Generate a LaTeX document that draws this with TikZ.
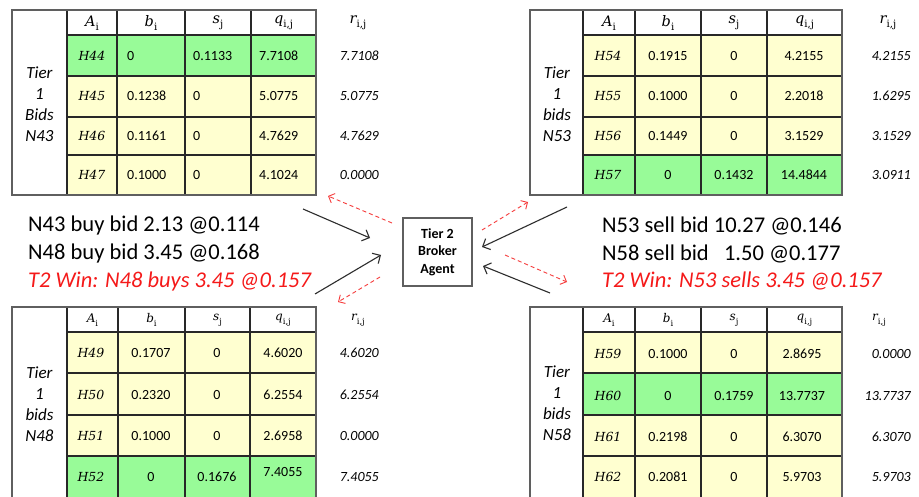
\documentclass[tikz,border=0pt]{standalone}
\usepackage{fontspec}
\setmainfont{Carlito}
\newfontfamily\dvserif{DejaVu Serif}
\usetikzlibrary{arrows.meta}
\definecolor{cgreen}{RGB}{152,251,152}
\definecolor{cyellow}{RGB}{255,255,208}
\definecolor{cgrid}{RGB}{40,40,40}
\definecolor{cframe}{RGB}{95,95,95}
\definecolor{cred}{RGB}{245,25,25}
\definecolor{carrow}{RGB}{45,45,45}
\newcommand\hsub[2]{{\dvserif\itshape #1}\raisebox{-0.3em}{\dvserif\upshape\scalebox{0.7}{#2}}}
\newcommand\trow[7]{%
  \node[acell] (#1a) at (\xA,#2) {#3};
  \node[ncell] (#1b) at (\xB,#2) {#4};
  \node[ncell] (#1s) at (\xS,#2) {#5};
  \node[ncell] (#1q) at (\xQ,#2) {#6};
  \node[rcell] (#1r) at (\xR,#2) {#7};}
\newcommand\thead[2]{%
  \node[hcell] (#1ha) at (\xHA,#2) {\hsub{A}{i}};
  \node[hcell] (#1hb) at (\xHB,#2) {\hsub{b}{i}};
  \node[hcell] (#1hs) at (\xHS,#2) {\hsub{s}{j}};
  \node[hcell] (#1hq) at (\xHQ,#2) {\hsub{q}{i,j}};
  \node[hcell] (#1hr) at (\xRH,#2) {\hsub{r}{i,j}};}
\tikzset{
  acell/.style={inner sep=0pt, font=\fontsize{12.5}{15}\dvserif\itshape},
  ncell/.style={inner sep=0pt, font=\fontsize{14}{16}\selectfont},
  rcell/.style={inner sep=0pt, anchor=east, font=\fontsize{14}{16}\selectfont\itshape},
  hcell/.style={inner sep=0pt, font=\fontsize{14.5}{17}\selectfont},
  tierlbl/.style={inner sep=0pt, align=center, font=\fontsize{17}{21}\selectfont\itshape},
  gridline/.style={draw=cgrid, line width=1.2pt},
  frameline/.style={draw=cframe, line width=1.4pt},
  bidtxt/.style={inner sep=0pt, anchor=base west, font=\fontsize{22.5}{26}\selectfont},
  wintxt/.style={inner sep=0pt, anchor=base west, text=cred, font=\fontsize{22.5}{26}\selectfont\itshape},
  broker/.style={draw=cframe, line width=1.3pt, minimum width=69pt, minimum height=68pt,
    inner sep=0pt, align=center, font=\fontsize{14}{17.5}\selectfont\bfseries},
  buyarrow/.style={draw=carrow, line width=1.1pt, -{Straight Barb[length=6pt,width=12pt]}},
  offerarrow/.style={draw=cred!85, line width=0.9pt, dash pattern=on 4pt off 3pt,
    -{Straight Barb[length=5pt,width=10pt]}},
}
\begin{document}
\begin{tikzpicture}[x=1pt,y=-1pt]
\useasboundingbox (0,0) rectangle (919,497);
\clip (0,0) rectangle (919,497);
\fill[white] (0,0) rectangle (919,497);

% ---------- top-left table ----------
\begin{scope}
  \fill[cgreen] (67,35) rectangle (316,76);
  \fill[cyellow] (67,76) rectangle (316,195);
  \foreach \yy in {35,76,117,155} \draw[gridline] (67,\yy) -- (316,\yy);
  \foreach \xx in {67,117,185,251} \draw[gridline] (\xx,10) -- (\xx,195);
  \draw[frameline] (12,10) rectangle (316,195);
  \def\xHA{92}\def\xHB{151}\def\xHS{218}\def\xHQ{283.5}\def\xRH{358}
  \thead{tl}{23}
  \def\xA{92}\def\xB{127}\def\xS{193}\def\xQ{259}\def\xR{379}
  \begin{scope}[ncell/.append style={anchor=west}]
    \trow{tl1}{56}{H44}{0}{0.1133}{7.7108}{7.7108}
    \trow{tl2}{96}{H45}{0.1238}{0}{5.0775}{5.0775}
    \trow{tl3}{136}{H46}{0.1161}{0}{4.7629}{4.7629}
    \trow{tl4}{175}{H47}{0.1000}{0}{4.1024}{0.0000}
  \end{scope}
  \node[tierlbl] (tltier) at (39.5,104) {Tier\\1\\Bids\\N43};
\end{scope}

% ---------- top-right table ----------
\begin{scope}
  \fill[cyellow] (583,35) rectangle (842,155);
  \fill[cgreen] (583,155) rectangle (842,195);
  \foreach \yy in {35,76,117,155} \draw[gridline] (583,\yy) -- (842,\yy);
  \foreach \xx in {583,635,701,767} \draw[gridline] (\xx,10) -- (\xx,195);
  \draw[frameline] (530,10) rectangle (842,195);
  \def\xHA{609}\def\xHB{668}\def\xHS{734}\def\xHQ{804.5}\def\xRH{888}
  \thead{tr}{23}
  \def\xA{608}\def\xB{668}\def\xS{734}\def\xQ{804}\def\xR{911}
  \trow{tr1}{56}{H54}{0.1915}{0}{4.2155}{4.2155}
  \trow{tr2}{96}{H55}{0.1000}{0}{2.2018}{1.6295}
  \trow{tr3}{136}{H56}{0.1449}{0}{3.1529}{3.1529}
  \trow{tr4}{175}{H57}{0}{0.1432}{14.4844}{3.0911}
  \node[tierlbl] (trtier) at (557,104) {Tier\\1\\bids\\N53};
\end{scope}

% ---------- bottom-left table ----------
\begin{scope}[hcell/.append style={font=\fontsize{12}{14}\selectfont}]
  \fill[cyellow] (67,332) rectangle (316,456);
  \fill[cgreen] (67,456) rectangle (316,510);
  \foreach \yy in {332,373,415,456} \draw[gridline] (67,\yy) -- (316,\yy);
  \foreach \xx in {67,118,185,250} \draw[gridline] (\xx,307) -- (\xx,510);
  \draw[frameline] (12,510) -- (12,307) -- (316,307) -- (316,510);
  \def\xHA{92.5}\def\xHB{151.5}\def\xHS{217.5}\def\xHQ{283}\def\xRH{358}
  \thead{bl}{320}
  \def\xA{91}\def\xB{151}\def\xS{217}\def\xQ{283}\def\xR{379}
  \trow{bl1}{353}{H49}{0.1707}{0}{4.6020}{4.6020}
  \trow{bl2}{395}{H50}{0.2320}{0}{6.2554}{6.2554}
  \trow{bl3}{436}{H51}{0.1000}{0}{2.6958}{0.0000}
  \trow{bl4}{477}{H52}{0}{0.1676}{\raisebox{10pt}{7.4055}}{7.4055}
  \node[tierlbl] (bltier) at (39.5,404) {Tier\\1\\bids\\N48};
\end{scope}

% ---------- bottom-right table ----------
\begin{scope}[hcell/.append style={font=\fontsize{12}{14}\selectfont}]
  \fill[cyellow] (583,332) rectangle (842,510);
  \fill[cgreen] (583,373) rectangle (842,415);
  \foreach \yy in {332,373,415,456} \draw[gridline] (583,\yy) -- (842,\yy);
  \foreach \xx in {583,635,701,767} \draw[gridline] (\xx,307) -- (\xx,510);
  \draw[frameline] (530,510) -- (530,307) -- (842,307) -- (842,510);
  \def\xHA{609}\def\xHB{668}\def\xHS{734}\def\xHQ{804.5}\def\xRH{879}
  \thead{br}{320}
  \def\xA{608}\def\xB{668}\def\xS{734}\def\xQ{802}\def\xR{911}
  \trow{br1}{354}{H59}{0.1000}{0}{2.8695}{0.0000}
  \trow{br2}{396}{H60}{0}{0.1759}{13.7737}{13.7737}
  \trow{br3}{437}{H61}{0.2198}{0}{6.3070}{6.3070}
  \trow{br4}{477}{H62}{0.2081}{0}{5.9703}{5.9703}
  \node[tierlbl] (brtier) at (557,403) {Tier\\1\\bids\\N58};
\end{scope}

% ---------- broker and bid texts ----------
\node[broker] (broker) at (437.5,252) {Tier 2\\Broker\\Agent};

\node[bidtxt] (lb1) at (28,232) {N43 buy bid 2.13 @0.114};
\node[bidtxt] (lb2) at (28,260) {N48 buy bid 3.45 @0.168};
\node[wintxt] (lb3) at (28,288) {T2 Win: N48 buys 3.45 @0.157};
\node[bidtxt] (rb1) at (602,233) {N53 sell bid 10.27 @0.146};
\node[bidtxt] (rb2) at (602,261) {N58 sell bid \ \ 1.50 @0.177};
\node[wintxt] (rb3) at (602,288) {T2 Win: N53 sells 3.45 @0.157};

% ---------- connectors ----------
\coordinate (a1s) at (303,209); \coordinate (a1e) at (370,238);
\coordinate (a2s) at (315,294); \coordinate (a2e) at (381,255);
\coordinate (a3s) at (567,207); \coordinate (a3e) at (482,247);
\coordinate (a4s) at (550,293); \coordinate (a4e) at (483,266);
\draw[buyarrow] (a1s) -- (a1e);
\draw[buyarrow] (a2s) -- (a2e);
\draw[buyarrow] (a3s) -- (a3e);
\draw[buyarrow] (a4s) -- (a4e);

\coordinate (d1s) at (392,223); \coordinate (d1e) at (328,196);
\coordinate (d2s) at (380,277); \coordinate (d2e) at (338,302);
\coordinate (d3s) at (482,230); \coordinate (d3e) at (528,202);
\coordinate (d4s) at (505,255); \coordinate (d4e) at (567,282);
\draw[offerarrow] (d1s) -- (d1e);
\draw[offerarrow] (d2s) -- (d2e);
\draw[offerarrow] (d3s) -- (d3e);
\draw[offerarrow] (d4s) -- (d4e);
\end{tikzpicture}
\end{document}
